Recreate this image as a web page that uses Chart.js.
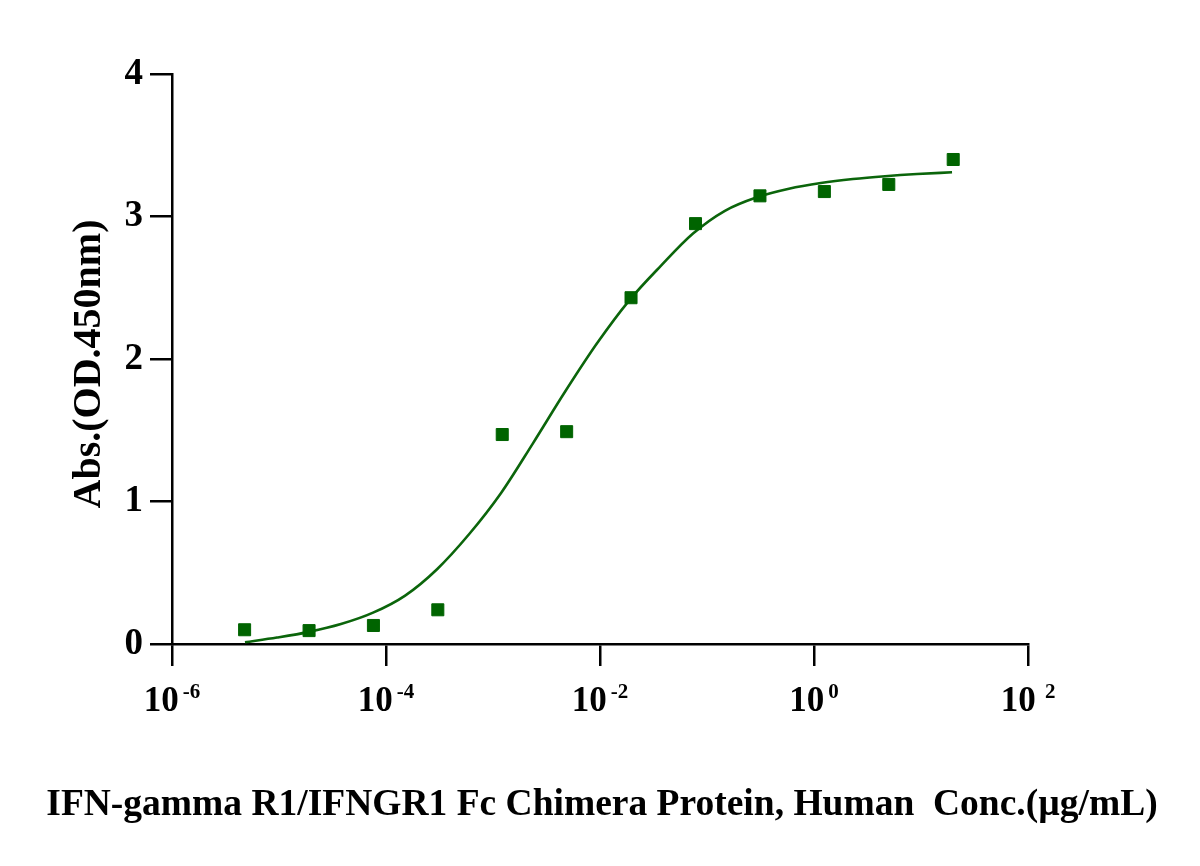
<!DOCTYPE html>
<html lang="en">
<head>
<meta charset="UTF-8">
<title>IFN-gamma R1 binding curve</title>
<script src="https://cdn.jsdelivr.net/npm/chart.js"></script>
<style>
  html, body { margin: 0; padding: 0; background: #fff; }
  #chart { display: block; }
</style>
</head>
<body>
<canvas id="chart" width="1200" height="866"></canvas>
<script>
// measured points (conc in ug/mL, 4-fold dilution from 20)
const conc = [0.00000477, 0.0000191, 0.0000763, 0.000305, 0.00122, 0.00488, 0.0195, 0.0781, 0.3125, 1.25, 5, 20];
const absorb = [0.10, 0.094, 0.13, 0.24, 1.47, 1.49, 2.43, 2.95, 3.145, 3.175, 3.225, 3.40];

// fitted curve
const curveConc = [0.00000481, 0.00000957, 0.0000191, 0.0000379, 0.0000757, 0.000151, 0.0003, 0.000597, 0.00119, 0.00237, 0.00471, 0.00938, 0.0187, 0.0372, 0.074, 0.147, 0.293, 0.583, 1.16, 2.31, 4.61, 9.18, 19.5];
const curveAbs = [0.012, 0.045, 0.085, 0.14, 0.22, 0.34, 0.525, 0.77, 1.06, 1.41, 1.77, 2.11, 2.41, 2.655, 2.88, 3.04, 3.135, 3.195, 3.235, 3.263, 3.283, 3.298, 3.31];

const xTicks = [1e-6, 1e-4, 1e-2, 1, 1e2];
const xTickExp = ['-6', '-4', '-2', '0', ' 2'];
const yTicks = [0, 1, 2, 3, 4];

const xTitle = 'IFN-gamma R1/IFNGR1 Fc Chimera Protein, Human  Conc.(\u00b5g/mL)';
const yTitle = 'Abs.(OD.450nm)';

const green = '#006400';
const serif = '"Liberation Serif", "Times New Roman", serif';

const textPlugin = {
    id: 'texts',
    afterDraw(chart) {
        const ctx = chart.ctx;
        const xs = chart.scales.x;
        ctx.save();
        ctx.fillStyle = '#000';
        ctx.textBaseline = 'alphabetic';
        // x tick labels 10^n
        xTicks.forEach((v, i) => {
            const px = xs.getPixelForValue(v);
            ctx.font = 'bold 35px ' + serif;
            const wBase = ctx.measureText('10').width;
            ctx.font = 'bold 21px ' + serif;
            const wExp = ctx.measureText(xTickExp[i]).width;
            const gap = 4;
            let left = px - (wBase + gap + wExp) / 2;
            ctx.font = 'bold 35px ' + serif;
            ctx.textAlign = 'left';
            ctx.fillText('10', left, 711);
            ctx.font = 'bold 21px ' + serif;
            ctx.fillText(xTickExp[i], left + wBase + gap, 698);
        });
        // axis titles
        ctx.textAlign = 'center';
        ctx.font = 'bold 37.5px ' + serif;
        ctx.fillText(xTitle, 602, 815);
        ctx.font = 'bold 40px ' + serif;
        ctx.translate(100, 364);
        ctx.rotate(-Math.PI / 2);
        ctx.fillText(yTitle, 0, 0);
        ctx.restore();
    }
};

new Chart(document.getElementById('chart'), {
    type: 'scatter',
    data: {
        datasets: [
            {
                type: 'scatter',
                data: conc.map((c, i) => ({ x: c, y: absorb[i] })),
                pointStyle: 'rect',
                pointRadius: 8.5,
                backgroundColor: green,
                borderColor: green,
                borderWidth: 1
            },
            {
                type: 'line',
                data: curveConc.map((c, i) => ({ x: c, y: curveAbs[i] })),
                borderColor: '#0b650b',
                borderWidth: 2.6,
                pointRadius: 0,
                fill: false,
                cubicInterpolationMode: 'monotone'
            }
        ]
    },
    options: {
        responsive: false,
        animation: false,
        devicePixelRatio: 1,
        layout: { padding: { left: 0, top: 74, right: 172, bottom: 0 } },
        plugins: {
            legend: { display: false },
            tooltip: { enabled: false }
        },
        scales: {
            x: {
                type: 'logarithmic',
                min: 1e-6,
                max: 1e2,
                afterBuildTicks: s => { s.ticks = xTicks.map(v => ({ value: v })); },
                afterFit: s => { s.height = 222; },
                ticks: { display: false },
                grid: { display: true, drawOnChartArea: false, drawTicks: true, tickLength: 22, color: '#000', lineWidth: 2.5 },
                border: { display: true, color: '#000', width: 2.5 }
            },
            y: {
                min: 0,
                max: 4,
                afterBuildTicks: s => { s.ticks = yTicks.map(v => ({ value: v })); },
                afterFit: s => { s.width = 172; },
                ticks: {
                    color: '#000',
                    padding: 7,
                    font: { family: serif, size: 37, weight: 'bold' }
                },
                grid: { display: true, drawOnChartArea: false, drawTicks: true, tickLength: 22, color: '#000', lineWidth: 2.5 },
                border: { display: true, color: '#000', width: 2.5 }
            }
        }
    },
    plugins: [textPlugin]
});
</script>
</body>
</html>
